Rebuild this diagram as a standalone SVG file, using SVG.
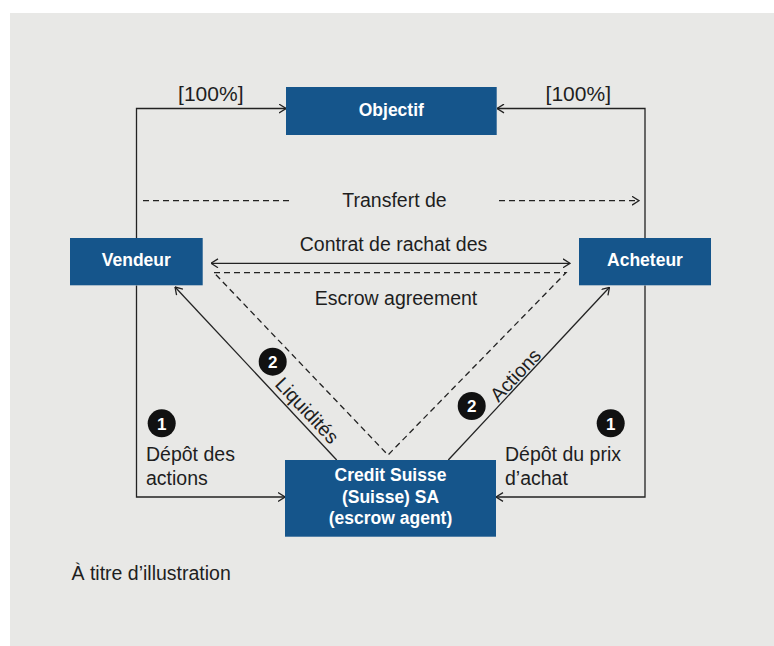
<svg xmlns="http://www.w3.org/2000/svg" width="774" height="646" viewBox="0 0 774 646">
  <defs>
    <marker id="arr" viewBox="0 0 8 10" refX="7.5" refY="5" markerWidth="8" markerHeight="10" markerUnits="userSpaceOnUse" orient="auto-start-reverse">
      <path d="M0.5,0.6 L7.5,5 L0.5,9.4" fill="none" stroke="#222" stroke-width="1.3"/>
    </marker>
    <style>
      .box { fill: #15558b; }
      .bt { font-family: "Liberation Sans", Arial, sans-serif; font-weight: bold; font-size: 17.5px; fill: #ffffff; text-anchor: middle; }
      .lbl { font-family: "Liberation Sans", Arial, sans-serif; font-size: 19.5px; fill: #1e1e1e; }
      .pct { font-family: "Liberation Sans", Arial, sans-serif; font-size: 21px; fill: #1e1e1e; text-anchor: middle; }
      .ln { fill: none; stroke: #222; stroke-width: 1.3; }
      .dash { fill: none; stroke: #222; stroke-width: 1.3; stroke-dasharray: 6 4; }
      .badge { fill: #111; }
      .bn { font-family: "Liberation Sans", Arial, sans-serif; font-weight: bold; font-size: 17px; fill: #ffffff; text-anchor: middle; }
    </style>
  </defs>
  <rect x="10" y="13" width="764" height="633" fill="#e8e8e6"/>

  <g id="connectors">
    <path class="ln" d="M136.5,238 V108.5 H286" marker-end="url(#arr)"/>
    <path class="ln" d="M645,238 V108.5 H497" marker-end="url(#arr)"/>
    <path class="ln" d="M136.5,285.5 V497 H285" marker-end="url(#arr)"/>
    <path class="ln" d="M645,285.5 V497 H496" marker-end="url(#arr)"/>
    <path class="dash" d="M143,200.7 H292"/>
    <path class="dash" d="M499,200.7 H639" marker-end="url(#arr)"/>
    <path class="ln" d="M211,263.3 H570" marker-start="url(#arr)" marker-end="url(#arr)"/>
    <path class="dash" d="M214,272.7 H566 L388,455 Z"/>
    <path class="ln" d="M336.7,460 L175,287" marker-end="url(#arr)"/>
    <path class="ln" d="M448.3,460 L609.5,287.3" marker-end="url(#arr)"/>
  </g>

  <g id="labels">
    <text class="pct" x="210.8" y="100.5">[100%]</text>
    <text class="pct" x="578.3" y="100.5">[100%]</text>
    <text class="lbl" x="394.5" y="207" text-anchor="middle">Transfert de</text>
    <text class="lbl" x="393.5" y="250.5" text-anchor="middle">Contrat de rachat des</text>
    <text class="lbl" x="396" y="305" text-anchor="middle">Escrow agreement</text>
    <text class="lbl" transform="translate(274,385) rotate(46.8)">Liquidités</text>
    <text class="lbl" transform="translate(498.5,403) rotate(-46.8)">Actions</text>
    <text class="lbl" x="146" y="461">Dépôt des</text>
    <text class="lbl" x="146" y="485">actions</text>
    <text class="lbl" x="505" y="461">Dépôt du prix</text>
    <text class="lbl" x="505" y="485">d’achat</text>
    <text class="lbl" x="71.5" y="580">À titre d’illustration</text>
  </g>

  <g id="badges">
    <circle class="badge" cx="161.7" cy="423.3" r="14"/>
    <text class="bn" x="161.7" y="429.5">1</text>
    <circle class="badge" cx="610.7" cy="423.3" r="14"/>
    <text class="bn" x="610.7" y="429.5">1</text>
    <circle class="badge" cx="272.7" cy="361.7" r="14"/>
    <text class="bn" x="272.7" y="367.9">2</text>
    <circle class="badge" cx="471.7" cy="406" r="14"/>
    <text class="bn" x="471.7" y="412.2">2</text>
  </g>

  <g id="objectif">
    <rect class="box" x="286" y="87" width="210.7" height="48"/>
    <text class="bt" x="391.3" y="116">Objectif</text>
  </g>
  <g id="vendeur">
    <rect class="box" x="70" y="238" width="132.7" height="47.3"/>
    <text class="bt" x="136.3" y="266">Vendeur</text>
  </g>
  <g id="acheteur">
    <rect class="box" x="579" y="238" width="132" height="47.3"/>
    <text class="bt" x="645" y="266">Acheteur</text>
  </g>
  <g id="credit-suisse">
    <rect class="box" x="285" y="460" width="211" height="76.7"/>
    <text class="bt" x="390.5" y="481">Credit Suisse</text>
    <text class="bt" x="390.5" y="502.7">(Suisse) SA</text>
    <text class="bt" x="390.5" y="524">(escrow agent)</text>
  </g>
</svg>
